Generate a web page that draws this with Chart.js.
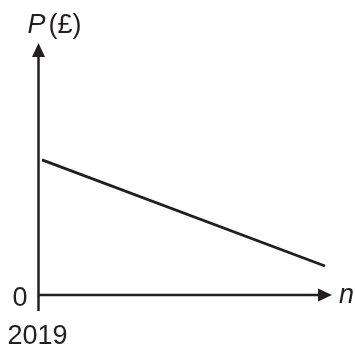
<!DOCTYPE html>
<html>
<head>
<meta charset="utf-8">
<script src="https://cdn.jsdelivr.net/npm/chart.js@4"></script>
<style>
html,body{margin:0;padding:0;background:#fff;}
#wrap{width:355px;height:349px;position:relative;}
</style>
</head>
<body>
<div id="wrap"><canvas id="c" width="355" height="349"></canvas></div>
<script>
// Data (years after 2019 vs price, schematic)
const nValues = [0.12, 9.76];
const pValues = [5.36, 1.15];
const xLabel = "n";
const yLabelVar = "P";
const yLabelUnit = "(£)";
const originLabel = "0";
const startYearLabel = "2019";

const INK = "#231f20";
const FONT = "'Liberation Sans', Arial, sans-serif";

const axesPlugin = {
  id: 'axesArrows',
  afterDatasetsDraw(chart) {
    const ctx = chart.ctx;
    const xs = chart.scales.x, ys = chart.scales.y;
    const x0 = xs.getPixelForValue(0);
    const y0 = ys.getPixelForValue(0);
    const xEnd = xs.getPixelForValue(xs.max);
    const yEnd = ys.getPixelForValue(ys.max);
    ctx.save();
    ctx.strokeStyle = INK;
    ctx.fillStyle = INK;
    ctx.lineWidth = 2.5;
    // y axis (extends a little below origin)
    ctx.beginPath();
    ctx.moveTo(x0, y0 + 16);
    ctx.lineTo(x0, yEnd + 10);
    ctx.stroke();
    // x axis
    ctx.beginPath();
    ctx.moveTo(x0, y0);
    ctx.lineTo(xEnd - 10, y0);
    ctx.stroke();
    // arrow heads
    ctx.beginPath();
    ctx.moveTo(x0, yEnd);
    ctx.lineTo(x0 - 6.5, yEnd + 14);
    ctx.lineTo(x0 + 6.5, yEnd + 14);
    ctx.closePath();
    ctx.fill();
    ctx.beginPath();
    ctx.moveTo(xEnd, y0);
    ctx.lineTo(xEnd - 14, y0 - 6.5);
    ctx.lineTo(xEnd - 14, y0 + 6.5);
    ctx.closePath();
    ctx.fill();
    // labels
    ctx.textBaseline = 'alphabetic';
    ctx.textAlign = 'left';
    ctx.font = "italic 27px " + FONT;
    ctx.fillText(yLabelVar, x0 - 11, 33);
    const pw = ctx.measureText(yLabelVar).width;
    ctx.font = "27px " + FONT;
    ctx.fillText(yLabelUnit, x0 - 11 + pw + 3, 33);
    ctx.font = "italic 27px " + FONT;
    ctx.fillText(xLabel, xEnd + 7, y0 + 8);
    ctx.font = "27px " + FONT;
    ctx.textAlign = 'right';
    ctx.fillText(originLabel, x0 - 11, y0 + 11);
    ctx.textAlign = 'center';
    ctx.fillText(startYearLabel, x0 - 1, y0 + 49);
    ctx.restore();
  }
};

new Chart(document.getElementById('c'), {
  type: 'line',
  data: {
    datasets: [{
      data: nValues.map((n, i) => ({x: n, y: pValues[i]})),
      borderColor: INK,
      borderWidth: 2.8,
      pointRadius: 0,
      fill: false,
      tension: 0
    }]
  },
  options: {
    responsive: false,
    animation: false,
    devicePixelRatio: 1,
    layout: {padding: {left: 38.5, right: 23, top: 43, bottom: 54}},
    plugins: {legend: {display: false}, tooltip: {enabled: false}},
    scales: {
      x: {type: 'linear', min: 0, max: 10, display: false},
      y: {type: 'linear', min: 0, max: 10, display: false}
    }
  },
  plugins: [axesPlugin]
});
</script>
</body>
</html>
